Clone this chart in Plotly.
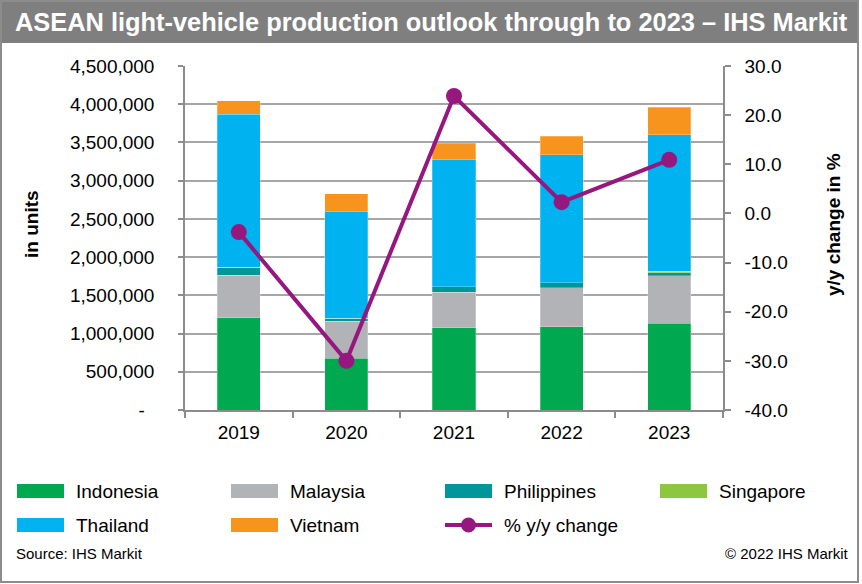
import plotly.graph_objects as go

years = ["2019", "2020", "2021", "2022", "2023"]
indonesia = [1207000, 676000, 1073000, 1086000, 1138000]
malaysia = [559000, 488000, 467000, 514000, 615000]
philippines = [100000, 36000, 73000, 62000, 40000]
singapore = [0, 0, 0, 0, 20000]
thailand = [2001000, 1400000, 1661000, 1674000, 1787000]
vietnam = [178000, 226000, 218000, 245000, 358000]
yoy_change = [-3.8, -30.0, 23.9, 2.3, 10.9]

left_ticks = [0, 500000, 1000000, 1500000, 2000000, 2500000, 3000000, 3500000, 4000000, 4500000]
left_ticktext = ["-\u2002"] + [f"{v:,}" for v in left_ticks[1:]]
right_ticks = [-40, -30, -20, -10, 0, 10, 20, 30]
right_ticktext = [f"{v:.1f}" for v in right_ticks]

series_names = ["Indonesia", "Malaysia", "Philippines", "Singapore", "Thailand", "Vietnam"]
series_values = [indonesia, malaysia, philippines, singapore, thailand, vietnam]
series_colors = ["#00a84f", "#b1b3b6", "#00969a", "#8dc63f", "#00b2ef", "#f7941d"]
line_name = "% y/y change"
line_color = "#96177e"

FONT = "Liberation Sans, Arial, sans-serif"
W, H = 862, 584
L, R, T, B = 185, 723, 66, 410


def px(x):
    return (x - L) / (R - L)


def py(y):
    return (B - y) / (B - T)


fig = go.Figure()
for name, vals, col in zip(series_names, series_values, series_colors):
    fig.add_trace(go.Bar(x=years, y=vals, name=name, marker_color=col,
                         marker_line_color="rgba(255,255,255,0.5)", marker_line_width=0.5,
                         showlegend=False))
fig.add_trace(go.Scatter(x=years, y=yoy_change, name=line_name, yaxis="y2",
                         mode="lines+markers", line=dict(color=line_color, width=4),
                         marker=dict(size=16, color=line_color), showlegend=False))

axis_col = "#8c8c8c"
fig.update_layout(
    width=W, height=H,
    margin=dict(l=L, r=W - R, t=T, b=H - B, pad=0),
    paper_bgcolor="white", plot_bgcolor="white",
    barmode="stack", bargap=0.6,
    font=dict(family=FONT, color="black", size=19),
    xaxis=dict(type="category", tickson="boundaries", ticks="outside", ticklen=6,
               tickcolor=axis_col, tickwidth=1.5, showline=True, linecolor=axis_col,
               linewidth=1.5, showgrid=False, tickfont=dict(size=19), ticklabelstandoff=4),
    yaxis=dict(range=[0, 4500000], tickvals=left_ticks, ticktext=left_ticktext,
               ticks="outside", ticklen=5, tickcolor=axis_col, tickwidth=1.5,
               showline=True, linecolor=axis_col, linewidth=1.5,
               showgrid=True, gridcolor="#a6a6a6", gridwidth=1.5, zeroline=False,
               tickfont=dict(size=19), ticklabelstandoff=20),
    yaxis2=dict(range=[-40, 30], tickvals=right_ticks, ticktext=right_ticktext, overlaying="y",
                side="right", ticks="outside", ticklen=6, tickcolor=axis_col, tickwidth=1.5,
                showline=True, linecolor=axis_col, linewidth=1.5, showgrid=False,
                zeroline=False, tickfont=dict(size=19), ticklabelstandoff=10),
)

shapes = [
    dict(type="rect", xref="paper", yref="paper", x0=px(0), x1=px(859), y0=py(0), y1=py(43),
         fillcolor="#7f7f7f", line=dict(width=0), layer="above"),
    dict(type="rect", xref="paper", yref="paper", x0=px(1), x1=px(858), y0=py(1), y1=py(582),
         fillcolor="rgba(0,0,0,0)", line=dict(color="#8c8c8c", width=2), layer="above"),
]
annotations = [
    dict(text="<b>ASEAN light-vehicle production outlook through to 2023 \u2013 IHS Markit</b>",
         xref="paper", yref="paper", x=px(13), y=py(22), xanchor="left", yanchor="middle",
         showarrow=False, font=dict(size=25.4, color="white", family=FONT)),
    dict(text="<b>in units</b>", xref="paper", yref="paper", x=px(31), y=py(224),
         textangle=-90, xanchor="center", yanchor="middle", showarrow=False,
         font=dict(size=19)),
    dict(text="<b>y/y change in %</b>", xref="paper", yref="paper", x=px(833), y=py(225),
         textangle=-90, xanchor="center", yanchor="middle", showarrow=False,
         font=dict(size=19)),
    dict(text="Source: IHS Markit", xref="paper", yref="paper", x=px(14), y=py(553),
         xanchor="left", yanchor="middle", showarrow=False, font=dict(size=15)),
    dict(text="\u00a9 2022 IHS Markit", xref="paper", yref="paper", x=px(851), y=py(553),
         xanchor="right", yanchor="middle", showarrow=False, font=dict(size=15)),
]

# legend (manual, to mimic the wide swatches)
col_x = [17, 231, 445, 660]
row_y = [491, 525]
entries = [(n, c, "bar") for n, c in zip(series_names, series_colors)] + [(line_name, line_color, "line")]
for i, (name, col, kind) in enumerate(entries):
    x0 = col_x[i % 4]
    yc = row_y[i // 4]
    if kind == "bar":
        shapes.append(dict(type="rect", xref="paper", yref="paper", x0=px(x0), x1=px(x0 + 47),
                           y0=py(yc + 7), y1=py(yc - 7), fillcolor=col, line=dict(width=0)))
    else:
        shapes.append(dict(type="line", xref="paper", yref="paper", x0=px(x0), x1=px(x0 + 47),
                           y0=py(yc), y1=py(yc), line=dict(color=col, width=4)))
        shapes.append(dict(type="circle", xref="paper", yref="paper", x0=px(x0 + 16),
                           x1=px(x0 + 31), y0=py(yc + 7.5), y1=py(yc - 7.5),
                           fillcolor=col, line=dict(width=0)))
    annotations.append(dict(text=name, xref="paper", yref="paper", x=px(x0 + 57), y=py(yc),
                            xanchor="left", yanchor="middle", showarrow=False,
                            font=dict(size=19)))

fig.update_layout(shapes=shapes, annotations=annotations)
fig.write_html("out.html", config={"displayModeBar": False},
               post_script="document.body.style.margin='0';")
